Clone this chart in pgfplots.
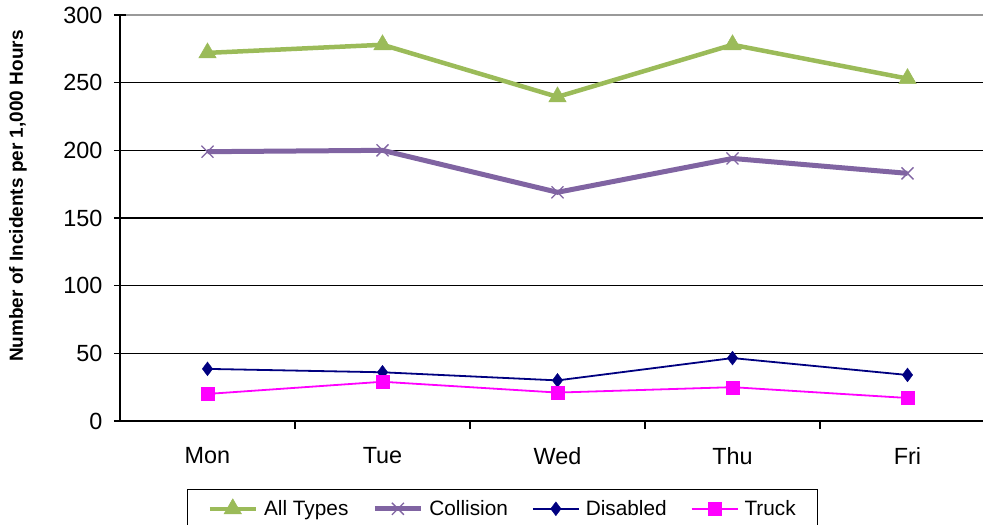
\documentclass[border=0pt]{standalone}
\usepackage{fontspec}
\setmainfont{Liberation Sans}
\usepackage{pgfplots}
\pgfplotsset{compat=1.18}
\definecolor{cgreen}{HTML}{9BBB59}
\definecolor{cpurple}{HTML}{8064A2}
\definecolor{cnavy}{HTML}{000080}
\definecolor{cmag}{HTML}{FF00FF}
\begin{document}
\begin{tikzpicture}
\begin{axis}[
  at={(0,0)}, anchor=south west,
  scale only axis,
  width=875bp, height=406bp,
  xmin=-0.5, xmax=4.5,
  ymin=0, ymax=300,
  axis lines*=left,
  axis line style={line width=1.3bp, black},
  xtick={0,1,2,3,4},
  xticklabels={Mon,Tue,Wed,Thu,Fri},
  x tick style={draw=none},
  extra x ticks={0.5,1.5,2.5,3.5},
  extra x tick labels={},
  extra x tick style={x tick style={draw=black, line width=1.2bp}, major tick length=8bp, tick align=outside},
  ytick={0,50,...,250},
  extra y ticks={300},
  extra y tick style={grid style={gray!80, line width=1.3bp}},
  y tick style={line width=1.2bp, black},
  tick align=center,
  major tick length=12bp,
  ymajorgrids,
  grid style={black, line width=1.2bp},
  /pgf/number format/assume math mode=true,
  tick label style={font=\fontsize{23.4bp}{28bp}\selectfont},
  xticklabel style={yshift=-17bp},
  yticklabel style={xshift=-8bp},
  ylabel={Number of Incidents per 1,000 Hours},
  ylabel style={font=\fontsize{19bp}{22bp}\selectfont\bfseries, at={(axis description cs:-0.1166,0.554)}, anchor=center},
  legend columns=4,
  legend style={at={(axis description cs:0.0766,-0.1675)}, anchor=north west, draw=black, line width=1bp,
    font=\fontsize{20.8bp}{24bp}\selectfont, inner xsep=20bp, inner ysep=9bp,
    /tikz/every odd column/.append style={column sep=4bp},
    /tikz/every even column/.append style={column sep=22bp}},
  legend image code/.code={\draw[mark repeat=2,mark phase=2,#1] plot coordinates {(0bp,0bp)(23bp,0bp)(46bp,0bp)};},
  clip=false,
]
\addplot[cgreen, line width=4.5bp, mark=triangle*, mark size=10bp, mark options={line width=0.5bp}] coordinates {(0,272) (1,278) (2,239.5) (3,278) (4,253)};
\addlegendentry{All Types}
\addplot[cpurple, line width=5bp, mark=x, mark size=8.5bp, mark options={line width=1.3bp}] coordinates {(0,199) (1,200) (2,169) (3,194) (4,183)};
\addlegendentry{Collision}
\addplot[cnavy, line width=1.8bp, mark=diamond*, mark size=7bp, mark options={line width=0.3bp}] coordinates {(0,38.5) (1,36) (2,30) (3,46.5) (4,34)};
\addlegendentry{Disabled}
\addplot[cmag, line width=1.8bp, mark=square*, mark size=6.5bp, mark options={line width=0.3bp}] coordinates {(0,20) (1,29) (2,21) (3,25) (4,17)};
\addlegendentry{Truck}
\end{axis}
\pgfresetboundingbox
\path (-120bp,-104bp) rectangle (863bp,421bp);
\end{tikzpicture}
\end{document}
